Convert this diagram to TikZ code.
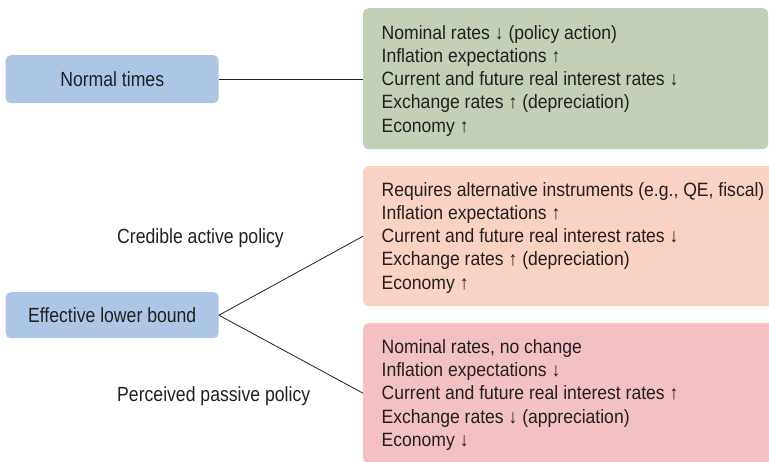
\documentclass[tikz,border=0pt]{standalone}
\usepackage{fontspec}
\setmainfont{Liberation Sans}[FakeStretch=0.86]
\newfontfamily\panelfont{Liberation Sans}[FakeStretch=0.91]
\definecolor{txt}{HTML}{231F20}
\definecolor{bluebox}{HTML}{ADC6E6}
\definecolor{greenbox}{HTML}{C4CFB7}
\definecolor{salmonbox}{HTML}{F9D2C4}
\definecolor{pinkbox}{HTML}{F3C1C3}
\tikzset{
  panel/.style={anchor=north west, inner sep=0pt, rounded corners=5pt, draw=none},
  casebox/.style={panel, fill=bluebox, text=txt, font=\fontsize{20.5}{24}\selectfont},
  effline/.style={anchor=base west, inner sep=0pt, text=txt, font=\panelfont\fontsize{19.3}{23}\selectfont},
  pathlabel/.style={anchor=base west, inner sep=0pt, text=txt, font=\fontsize{20.5}{24}\selectfont},
  link/.style={draw=txt, line width=0.8pt}
}
\begin{document}
\begin{tikzpicture}[x=1pt, y=-1pt]
\useasboundingbox (0,0) rectangle (769,461);
\clip (0,0) rectangle (769,461);
% cases
\node[casebox, minimum width=213pt, minimum height=48pt] (nt) at (5.5,55) {Normal times};
\node[casebox, minimum width=213pt, minimum height=46pt] (elb) at (5.5,292) {Effective lower bound};
% outcome panels
\node[panel, fill=greenbox, minimum width=405pt, minimum height=141pt] (green) at (363,8) {};
\node[panel, fill=salmonbox, minimum width=420pt, minimum height=140pt] (sal) at (363,166) {};
\node[panel, fill=pinkbox, minimum width=420pt, minimum height=140pt] (pink) at (363,323) {};
% connectors
\draw[link] (nt.east) -- (nt.east -| green.west);
\draw[link] (elb.east) -- (sal.west);
\draw[link] (elb.east) -- (pink.west);
% path labels
\node[pathlabel] (cap) at (117,243.3) {Credible active policy};
\node[pathlabel] (ppp) at (117,401.7) {Perceived passive policy};
% green lines
\node[effline] (g1) at (381.5,39.3) {Nominal rates ↓ (policy action)};
\node[effline] (g2) at (381.5,62.5) {Inflation expectations ↑};
\node[effline] (g3) at (381.5,85.7) {Current and future real interest rates ↓};
\node[effline] (g4) at (381.5,108.9) {Exchange rates ↑ (depreciation)};
\node[effline] (g5) at (381.5,132.1) {Economy ↑};
% salmon lines
\node[effline] (s1) at (381.5,196) {Requires alternative instruments (e.g., QE, fiscal)};
\node[effline] (s2) at (381.5,219.3) {Inflation expectations ↑};
\node[effline] (s3) at (381.5,242.6) {Current and future real interest rates ↓};
\node[effline] (s4) at (381.5,265.9) {Exchange rates ↑ (depreciation)};
\node[effline] (s5) at (381.5,289.2) {Economy ↑};
% pink lines
\node[effline] (p1) at (381.5,353.3) {Nominal rates, no change};
\node[effline] (p2) at (381.5,376.6) {Inflation expectations ↓};
\node[effline] (p3) at (381.5,399.9) {Current and future real interest rates ↑};
\node[effline] (p4) at (381.5,423.2) {Exchange rates ↓ (appreciation)};
\node[effline] (p5) at (381.5,446.5) {Economy ↓};
\end{tikzpicture}
\end{document}
